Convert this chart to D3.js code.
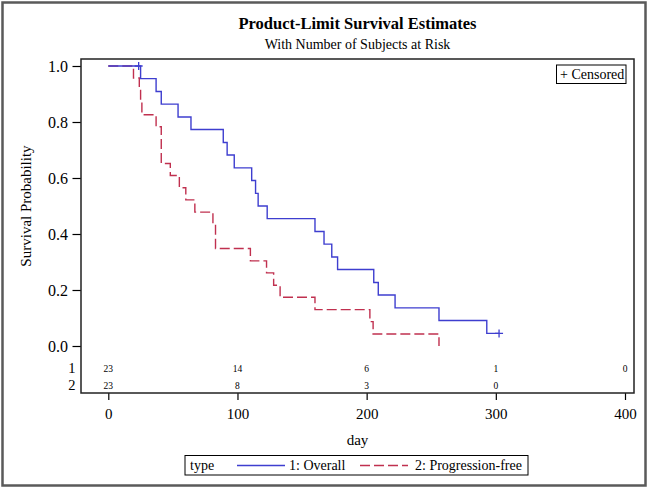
<!DOCTYPE html>
<html><head><meta charset="utf-8">
<script src="https://cdn.jsdelivr.net/npm/d3@7"></script>
<style>
html,body{margin:0;padding:0;background:#fff;}
svg{display:block;}
text{font-family:"Liberation Serif","Times New Roman",serif;fill:#000;}
</style></head>
<body>
<svg id="chart" width="650" height="491"></svg>
<script>
// ---- data ----
const titleText = "Product-Limit Survival Estimates";
const subtitleText = "With Number of Subjects at Risk";
const seriesNames = ["1: Overall", "2: Progression-free"];
const rowLabels = ["1", "2"];

const overallTimes = [0, 25, 37, 41, 54, 64, 89, 92, 97.5, 111, 114, 116, 123, 160, 167, 173, 177.5, 205.5, 209, 222, 256, 293, 302.5];
const overallSurv  = [1.0, 0.955, 0.909, 0.864, 0.818, 0.773, 0.727, 0.682, 0.636, 0.591, 0.545, 0.500, 0.455, 0.409, 0.364, 0.318, 0.273, 0.227, 0.182, 0.136, 0.091, 0.045, 0.045];
const overallCensorTimes = [23.5, 302.5];
const overallCensorSurv  = [1.0, 0.045];

const pfsTimes = [0, 19.5, 24, 25, 26, 37, 41, 48, 55, 60, 67, 81, 83, 110, 122.5, 128, 133, 160, 202.5, 205, 256];
const pfsSurv  = [1.0, 0.957, 0.913, 0.870, 0.826, 0.783, 0.652, 0.609, 0.565, 0.522, 0.478, 0.435, 0.348, 0.304, 0.261, 0.217, 0.174, 0.130, 0.087, 0.043, 0.0];

const atRiskTimes = [0, 100, 200, 300, 400];
const atRiskOverall = [23, 14, 6, 1, 0];
const atRiskPfs = [23, 8, 3, 0, null];

const xTicks = [0, 100, 200, 300, 400];
const yTicks = [0, 0.2, 0.4, 0.6, 0.8, 1.0];

// ---- layout ----
const svg = d3.select("#chart");
const frame = {l: 81, r: 634, t: 59, b: 393};
const cx0 = (frame.l + frame.r) / 2;
const x = d3.scaleLinear().domain([0, 400]).range([108.3, 625]);
const y = d3.scaleLinear().domain([0, 1]).range([346, 66]);
const blue = "#3e3ecf", red = "#c0304f";

// outer border
svg.append("rect").attr("x", 2.5).attr("y", 2.5).attr("width", 643).attr("height", 483)
  .attr("fill", "none").attr("stroke", "#5a5a5a").attr("stroke-width", 2.5);

// titles
svg.append("text").attr("x", cx0).attr("y", 29).attr("text-anchor", "middle")
  .attr("font-size", 16.5).attr("font-weight", "bold").text(titleText);
svg.append("text").attr("x", cx0).attr("y", 48.5).attr("text-anchor", "middle")
  .attr("font-size", 14).text(subtitleText);

// y axis
const yAxis = d3.axisLeft(y).tickValues(yTicks).tickFormat(d3.format(".1f")).tickSize(8.5).tickPadding(4.5);
const gy = svg.append("g").attr("transform", `translate(${frame.l},0)`).call(yAxis);
gy.select(".domain").remove();
gy.selectAll("text").attr("font-size", 16).attr("font-family", "Liberation Serif");
gy.selectAll("line").attr("stroke", "#000").attr("stroke-width", 1.2);

// x axis
const xAxis = d3.axisBottom(x).tickValues(xTicks).tickFormat(d3.format("d")).tickSize(7).tickPadding(8);
const gx = svg.append("g").attr("transform", `translate(0,${frame.b})`).call(xAxis);
gx.select(".domain").remove();
gx.selectAll("text").attr("font-size", 15).attr("font-family", "Liberation Serif");
gx.selectAll("line").attr("stroke", "#000").attr("stroke-width", 1.2);

// axis labels
svg.append("text").attr("transform", `translate(31,${(y(0)+y(1))/2}) rotate(-90)`)
  .attr("text-anchor", "middle").attr("font-size", 15).text("Survival Probability");
svg.append("text").attr("x", cx0).attr("y", 445).attr("text-anchor", "middle")
  .attr("font-size", 15).text("day");

// curves
const line = d3.line().x(d => x(d[0])).y(d => y(d[1])).curve(d3.curveStepAfter);
const overallPts = overallTimes.map((t, i) => [t, overallSurv[i]]);
const pfsPts = pfsTimes.map((t, i) => [t, pfsSurv[i]]);
svg.append("path").attr("d", line(pfsPts)).attr("fill", "none").attr("stroke", red)
  .attr("stroke-width", 1.4).attr("stroke-dasharray", "10,4");
svg.append("path").attr("d", line(overallPts)).attr("fill", "none").attr("stroke", blue)
  .attr("stroke-width", 1.4);

// censor marks
overallCensorTimes.forEach((t, i) => {
  const px = x(t), py = y(overallCensorSurv[i]);
  svg.append("path").attr("d", `M${px-4},${py}H${px+4}M${px},${py-4}V${py+4}`)
    .attr("stroke", blue).attr("stroke-width", 1.3);
});

// at-risk table
const rowY = [372, 388.5];
[atRiskOverall, atRiskPfs].forEach((row, r) => {
  svg.append("text").attr("x", 75.5).attr("y", rowY[r] + 1).attr("text-anchor", "end")
    .attr("font-size", 14.5).text(rowLabels[r]);
  row.forEach((v, i) => {
    if (v === null) return;
    svg.append("text").attr("x", x(atRiskTimes[i])).attr("y", rowY[r]).attr("text-anchor", "middle")
      .attr("font-size", 9.5).text(v);
  });
});

// frame
svg.append("rect").attr("x", frame.l).attr("y", frame.t).attr("width", frame.r - frame.l)
  .attr("height", frame.b - frame.t).attr("fill", "none").attr("stroke", "#222").attr("stroke-width", 1.5);

// censored legend
svg.append("rect").attr("x", 556.5).attr("y", 65).attr("width", 69.5).attr("height", 18.5)
  .attr("fill", "#fff").attr("stroke", "#000").attr("stroke-width", 1);
svg.append("text").attr("x", 560).attr("y", 79).attr("font-size", 14).text("+ Censored");

// bottom legend
svg.append("rect").attr("x", 185).attr("y", 455.5).attr("width", 343).attr("height", 19.5)
  .attr("fill", "#fff").attr("stroke", "#000").attr("stroke-width", 1);
svg.append("text").attr("x", 190).attr("y", 470).attr("font-size", 14).text("type");
svg.append("line").attr("x1", 237).attr("x2", 285).attr("y1", 465.5).attr("y2", 465.5)
  .attr("stroke", blue).attr("stroke-width", 1.4);
svg.append("text").attr("x", 289).attr("y", 470).attr("font-size", 14).text(seriesNames[0]);
svg.append("line").attr("x1", 360).attr("x2", 408).attr("y1", 465.5).attr("y2", 465.5)
  .attr("stroke", red).attr("stroke-width", 1.4).attr("stroke-dasharray", "10,4");
svg.append("text").attr("x", 415).attr("y", 470).attr("font-size", 14).text(seriesNames[1]);
</script>
</body></html>
